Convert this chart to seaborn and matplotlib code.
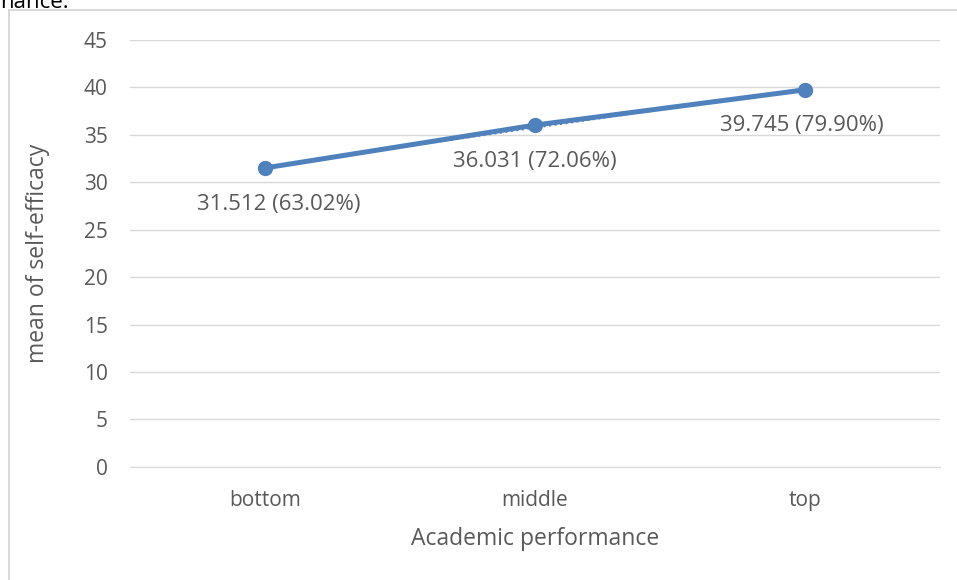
import numpy as np
import pandas as pd
import matplotlib.pyplot as plt
import seaborn as sns

categories = ['bottom', 'middle', 'top']
means = [31.512, 36.031, 39.745]
labels = ['31.512 (63.02%)', '36.031 (72.06%)', '39.745 (79.90%)']
yticks = [0, 5, 10, 15, 20, 25, 30, 35, 40, 45]

df = pd.DataFrame({'perf': categories, 'mean': means, 'x': range(len(categories))})

sns.set_style('white')
plt.rcParams['font.family'] = ['Open Sans', 'DejaVu Sans']

blue = '#4F81BD'
grey = '#595959'

fig = plt.figure(figsize=(9.57, 5.8), dpi=100)
ax = fig.add_axes([0.1358, 0.195, 0.8462, 0.736])

# linear trendline (dotted, sits under the series)
coef = np.polyfit(df['x'], df['mean'], 1)
trend = np.polyval(coef, df['x'])
ax.plot(df['x'], trend, color=blue, lw=1.5, ls=':', zorder=2)

sns.lineplot(data=df, x='x', y='mean', ax=ax, color=blue, lw=3.6,
             marker='o', markersize=11, markeredgewidth=0, zorder=3)

label_dx = [10, 0, -2]
for xi, yi, t, dx in zip(df['x'], df['mean'], labels, label_dx):
    ax.annotate(t, (xi, yi), xytext=(dx, -26), textcoords='offset points',
                ha='center', va='center', fontsize=16, color=grey)

ax.set_xlim(-0.5, 2.5)
ax.set_ylim(0, 45)
ax.set_yticks(yticks)
ax.set_xticks(df['x'])
ax.set_xticklabels(categories)
ax.yaxis.grid(True, color='#D9D9D9', lw=1)
ax.set_axisbelow(True)
for s in ['top', 'right', 'left']:
    ax.spines[s].set_visible(False)
ax.spines['bottom'].set_color('#D9D9D9')
ax.tick_params(axis='both', length=0, labelsize=15, labelcolor=grey)
ax.tick_params(axis='x', pad=16.5)
ax.tick_params(axis='y', pad=16)
ax.set_xlabel('Academic performance', fontsize=16.5, color=grey, labelpad=12)
ax.set_ylabel('mean of self-efficacy', fontsize=16.5, color=grey, labelpad=24)

# outer chart-area border (left and top edges) and clipped caption above
fig.add_artist(plt.Line2D([9 / 957, 9 / 957], [0, 1 - 10 / 580], color='#D9D9D9', lw=1.5))
fig.add_artist(plt.Line2D([9 / 957, 1], [1 - 10 / 580, 1 - 10 / 580], color='#D9D9D9', lw=1.5))
fig.text(0.0, 1 - 2 / 580, 'nance.', fontsize=16, color='black', ha='left', va='center')

fig.savefig('out.png', dpi=100)
